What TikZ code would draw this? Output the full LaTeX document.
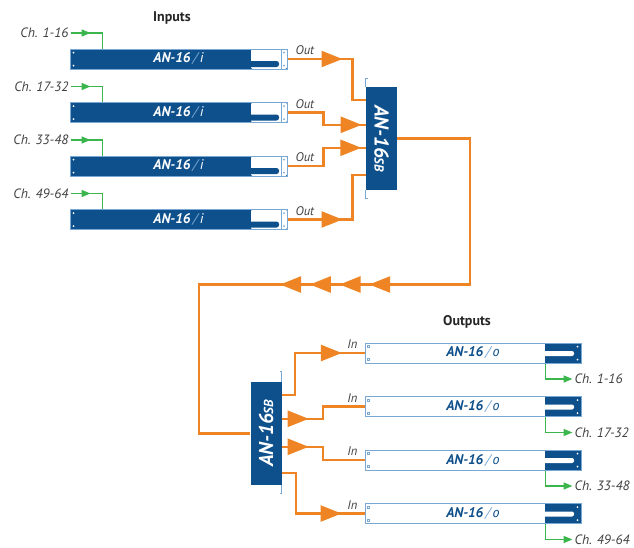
\documentclass[tikz,border=0pt]{standalone}
\usepackage{fontspec}
\setmainfont{PT Sans}
\usetikzlibrary{
        arrows.meta,
        decorations.markings,
        positioning
    }
\definecolor{rackblue}{RGB}{14,80,140}
\definecolor{rackedge}{RGB}{122,168,212}
\definecolor{feedorange}{RGB}{238,132,36}
\definecolor{siggreen}{RGB}{58,182,76}
\newcommand{\rackin}{AN-16\,{\mdseries\textcolor{rackedge}{/}\,i}}
\newcommand{\rackout}{AN-16\,{\mdseries\textcolor{rackedge}{/}\,o}}
\newcommand{\racksb}{AN-16{\fontsize{13}{13}\selectfont SB}}
\tikzset{tipO/.tip={Triangle[length=21pt,width=16pt]},tipG/.tip={Triangle[length=9pt,width=7pt]}}
\tikzset{
    feed/.style={draw=feedorange,color=feedorange,line width=2.4pt},
    sig/.style={draw=siggreen,color=siggreen,line width=1.6pt},
    tipat/.style={postaction={decorate},decoration={markings,mark=at position #1 with {\arrow{tipO}}}},
    gtipat/.style={postaction={decorate},decoration={markings,mark=at position #1 with {\arrow{tipG}}}},
    looptips/.style={postaction={decorate},decoration={markings,mark=between positions 320pt and 410pt step 29.7pt with {\arrow{tipO}}}},
    chlbl/.style={font=\fontsize{13.5}{15}\selectfont\itshape,text=black!75,inner sep=2pt},
    portlbl/.style={font=\fontsize{12.5}{14}\selectfont\itshape,text=black!75,inner sep=1pt},
    title/.style={font=\fontsize{14}{16}\selectfont\bfseries,text=black!85},
    ear/.style={draw=rackedge,line width=.8pt},
    sb/.style={fill=rackblue,minimum width=31pt,minimum height=103pt,inner sep=0pt,text=white,
        font=\fontsize{20}{22}\selectfont\bfseries\itshape},
    inrack/.style={draw=rackedge,fill=rackblue,line width=1pt,minimum width=217pt,minimum height=20pt,
        inner sep=0pt,text=white,font=\fontsize{14}{16}\selectfont\bfseries\itshape,
        path picture={
            \fill[white,rounded corners=2pt] ([xshift=-36pt]path picture bounding box.north east) rectangle (path picture bounding box.south east);
            \fill[rackblue,rounded corners=2.5pt] ([shift={(-40pt,2pt)}]path picture bounding box.south east) rectangle ([shift={(-8pt,8pt)}]path picture bounding box.south east);
            \draw[rackedge,line width=.6pt] ([xshift=-5.5pt]path picture bounding box.north east) -- ([xshift=-5.5pt]path picture bounding box.south east);
            \fill[rackedge] ([shift={(-3pt,-3.5pt)}]path picture bounding box.north east) circle (1pt)
                ([shift={(-3pt,3.5pt)}]path picture bounding box.south east) circle (1pt);
            \fill[white] ([shift={(3.5pt,-3.5pt)}]path picture bounding box.north west) circle (1pt)
                ([shift={(3.5pt,3.5pt)}]path picture bounding box.south west) circle (1pt);
        }},
    outrack/.style={draw=rackedge,fill=white,line width=1pt,minimum width=216pt,minimum height=20pt,
        inner sep=0pt,text=rackblue,font=\fontsize{14}{16}\selectfont\bfseries\itshape,
        path picture={
            \fill[rackblue] ([xshift=-36pt]path picture bounding box.north east) rectangle (path picture bounding box.south east);
            \fill[white,rounded corners=2pt] ([shift={(-40pt,-8pt)}]path picture bounding box.north east) rectangle ([shift={(-7pt,-13pt)}]path picture bounding box.north east);
            \fill[white] ([shift={(-3.5pt,-3.5pt)}]path picture bounding box.north east) circle (1pt)
                ([shift={(-3.5pt,3.5pt)}]path picture bounding box.south east) circle (1pt);
            \draw[rackedge,line width=.5pt] ([shift={(2.3pt,-2.3pt)}]path picture bounding box.north west) rectangle ++(2.4pt,-2.4pt)
                ([shift={(2.3pt,2.3pt)}]path picture bounding box.south west) rectangle ++(2.4pt,2.4pt);
        }}
}

\begin{document}
\begin{tikzpicture}[x=1pt,y=-1pt,node distance=53.5pt]
    \useasboundingbox (0,0) rectangle (634,547);
    \node[title] (inputs) at (172,18) {Inputs};
    \node[title] (outputs) at (467,322) {Outputs};
    \node[inrack] (in1) at (178.5,59) {\rackin};
    \node[inrack] (in2) [below of=in1] {\rackin};
    \node[inrack] (in3) [below of=in2] {\rackin};
    \node[inrack] (in4) [below of=in3] {\rackin};
    \node[outrack] (out1) at (473,353) {\rackout};
    \node[outrack] (out2) [below of=out1] {\rackout};
    \node[outrack] (out3) [below of=out2] {\rackout};
    \node[outrack] (out4) [below of=out3] {\rackout};
    \node[sb] (sbin) at (381.5,138.5) {\rotatebox{-90}{\racksb}};
    \node[sb] (sbout) at (266,433.5) {\rotatebox{90}{\racksb}};
    \node[chlbl,anchor=east] (chin1) at ([shift={(1pt,26pt)}]in1.west) {Ch. 1-16};
    \node[chlbl,anchor=east] (chin2) at ([shift={(1pt,26pt)}]in2.west) {Ch. 17-32};
    \node[chlbl,anchor=east] (chin3) at ([shift={(1pt,26pt)}]in3.west) {Ch. 33-48};
    \node[chlbl,anchor=east] (chin4) at ([shift={(1pt,26pt)}]in4.west) {Ch. 49-64};
    \node[chlbl,anchor=west] (chout1) at ([shift={(-9pt,-26pt)}]out1.east) {Ch. 1-16};
    \node[chlbl,anchor=west] (chout2) at ([shift={(-9pt,-26pt)}]out2.east) {Ch. 17-32};
    \node[chlbl,anchor=west] (chout3) at ([shift={(-9pt,-26pt)}]out3.east) {Ch. 33-48};
    \node[chlbl,anchor=west] (chout4) at ([shift={(-9pt,-26pt)}]out4.east) {Ch. 49-64};
    \coordinate (sbin1) at ([yshift=-13pt]sbin.north west);
    \coordinate (sbin2) at ([yshift=-38pt]sbin.north west);
    \coordinate (sbin3) at ([yshift=-61pt]sbin.north west);
    \coordinate (sbin4) at ([yshift=-88pt]sbin.north west);
    \coordinate (sbout1) at ([yshift=-13pt]sbout.north east);
    \coordinate (sbout2) at ([yshift=-37pt]sbout.north east);
    \coordinate (sbout3) at ([yshift=-65pt]sbout.north east);
    \coordinate (sbout4) at ([yshift=-91pt]sbout.north east);
    \draw[ear] ([shift={(2pt,8pt)}]sbin.north west) -- ++(-2pt,0pt) -- (sbin.north west);
    \draw[ear] ([shift={(2pt,-8pt)}]sbin.south west) -- ++(-2pt,0pt) -- (sbin.south west);
    \draw[ear] ([shift={(-2pt,10pt)}]sbout.north east) -- ++(2pt,0pt) -- (sbout.north east);
    \draw[ear] ([shift={(-2pt,-8pt)}]sbout.south east) -- ++(2pt,0pt) -- (sbout.south east);
    \draw[sig,gtipat=20pt] (chin1.east) -| ([xshift=33pt]in1.north west);
    \draw[sig,gtipat=20pt] (chin2.east) -| ([xshift=33pt]in2.north west);
    \draw[sig,gtipat=20pt] (chin3.east) -| ([xshift=33pt]in3.north west);
    \draw[sig,gtipat=20pt] (chin4.east) -| ([xshift=33pt]in4.north west);
    \draw[sig,-{tipG}] ([xshift=-36pt]out1.south east) |- (chout1.west);
    \draw[sig,-{tipG}] ([xshift=-36pt]out2.south east) |- (chout2.west);
    \draw[sig,-{tipG}] ([xshift=-36pt]out3.south east) |- (chout3.west);
    \draw[sig,-{tipG}] ([xshift=-36pt]out4.south east) |- (chout4.west);
    \draw[feed,tipat=55pt] (in1.east) node[portlbl,anchor=south west,xshift=6pt,yshift=2pt] {Out} -- ++(65,0) |- (sbin1);
    \draw[feed,tipat=86.5pt] (in2.east) node[portlbl,anchor=south west,xshift=6pt,yshift=2pt] {Out} -- ++(36,0) |- (sbin2);
    \draw[feed,tipat=92pt] (in3.east) node[portlbl,anchor=south west,xshift=6pt,yshift=2pt] {Out} -- ++(36,0) |- (sbin3);
    \draw[feed,tipat=55pt] (in4.east) node[portlbl,anchor=south west,xshift=6pt,yshift=2pt] {Out} -- ++(65,0) |- (sbin4);
    \draw[feed,looptips] (sbin.east) -| ++(73,146) -- ++(-271,0) |- (sbout.west);
    \draw[feed,tipat=102pt] (sbout1) -- ++(13,0) |- (out1.west) node[portlbl,anchor=south east,xshift=-5pt,yshift=2pt] {In};
    \draw[feed,tipat=27pt] (sbout2) -- ++(41,0) |- (out2.west) node[portlbl,anchor=south east,xshift=-5pt,yshift=2pt] {In};
    \draw[feed,tipat=27pt] (sbout3) -- ++(41,0) |- (out3.west) node[portlbl,anchor=south east,xshift=-5pt,yshift=2pt] {In};
    \draw[feed,tipat=100.5pt] (sbout4) -- ++(14,0) |- (out4.west) node[portlbl,anchor=south east,xshift=-5pt,yshift=2pt] {In};
\end{tikzpicture}
\end{document}
